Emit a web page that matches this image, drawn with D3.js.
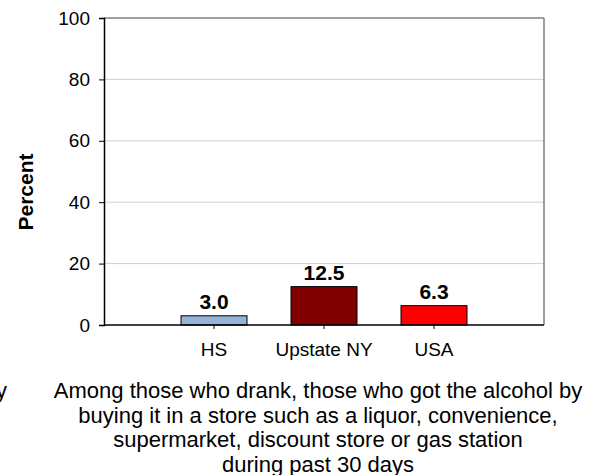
<!DOCTYPE html>
<html><head><meta charset="utf-8">
<script src="https://cdn.jsdelivr.net/npm/d3@7"></script>
<style>
html,body{margin:0;padding:0;background:#fff;}
svg{display:block;font-family:Arial,"Liberation Sans",sans-serif;}
</style></head>
<body><svg id="c" width="589" height="475"></svg>
<script>
const categories = ["HS", "Upstate NY", "USA"];
const values = [3.0, 12.5, 6.3];
const barColors = ["#95B3D7", "#800000", "#FF0000"];
const yTicks = [0, 20, 40, 60, 80, 100];
const yLabel = "Percent";
const captionLines = [
  "Among those who drank, those who got the alcohol by",
  "buying it in a store such as a liquor, convenience,",
  "supermarket, discount store or gas station",
  "during past 30 days"
];

const svg = d3.select("#c");
const L = 104, R = 544, T = 18, B = 325;

const x = d3.scaleBand().domain(categories).range([L, R]).paddingInner(0.4).paddingOuter(0.7);
const y = d3.scaleLinear().domain([0, 100]).range([B, T]);

// gridlines
svg.append("g").selectAll("line").data(yTicks.filter(d => d > 0 && d < 100)).join("line")
  .attr("x1", L).attr("x2", R).attr("y1", d => y(d)).attr("y2", d => y(d))
  .attr("stroke", "#cfcfcf").attr("stroke-width", 1);

// plot border top/right
svg.append("line").attr("x1", L).attr("x2", R).attr("y1", y(100)).attr("y2", y(100))
  .attr("stroke", "#7f7f7f").attr("stroke-width", 1.5);
svg.append("line").attr("x1", R).attr("x2", R).attr("y1", T).attr("y2", B)
  .attr("stroke", "#7f7f7f").attr("stroke-width", 1.5);

// bars
svg.append("g").selectAll("rect").data(values).join("rect")
  .attr("x", (d, i) => x(categories[i]))
  .attr("y", d => y(d))
  .attr("width", x.bandwidth())
  .attr("height", d => B - y(d))
  .attr("fill", (d, i) => barColors[i])
  .attr("stroke", "#000").attr("stroke-width", 1);

// value labels
svg.append("g").selectAll("text").data(values).join("text")
  .attr("x", (d, i) => x(categories[i]) + x.bandwidth() / 2)
  .attr("y", d => y(d) - 7)
  .attr("text-anchor", "middle")
  .attr("font-weight", "bold").attr("font-size", "21px")
  .text(d => d.toFixed(1));

// y axis
const yAxis = d3.axisLeft(y).tickValues(yTicks).tickSize(5).tickPadding(9);
const gy = svg.append("g").attr("transform", `translate(${L},0)`).call(yAxis);
gy.select(".domain").attr("stroke", "#000").attr("stroke-width", 1.5);
gy.selectAll(".tick line").attr("stroke", "#000");
gy.selectAll(".tick text").attr("font-size", "19px").attr("font-family", "Arial, 'Liberation Sans', sans-serif").attr("fill", "#000");

// x axis
const xAxis = d3.axisBottom(x).tickSize(4).tickPadding(14).tickSizeOuter(0);
const gx = svg.append("g").attr("transform", `translate(0,${B})`).call(xAxis);
gx.select(".domain").attr("d", `M${L},0H${R}`).attr("stroke", "#000").attr("stroke-width", 1.5);
gx.selectAll(".tick line").attr("stroke", "#000");
gx.selectAll(".tick text").attr("font-size", "19px").attr("font-family", "Arial, 'Liberation Sans', sans-serif").attr("fill", "#000");

// y label
svg.append("text")
  .attr("transform", `translate(33,192) rotate(-90)`)
  .attr("text-anchor", "middle")
  .attr("font-weight", "bold").attr("font-size", "21px")
  .text(yLabel);

// caption
const cap = svg.append("text").attr("text-anchor", "middle").attr("font-size", "22px");
captionLines.forEach((t, i) => {
  cap.append("tspan").attr("x", 318).attr("y", 398 + i * 24.5).text(t);
});

// clipped fragment at the left edge
svg.append("text").attr("x", 7).attr("y", 398).attr("text-anchor", "end")
  .attr("font-size", "22px").text("by");
</script></body></html>
